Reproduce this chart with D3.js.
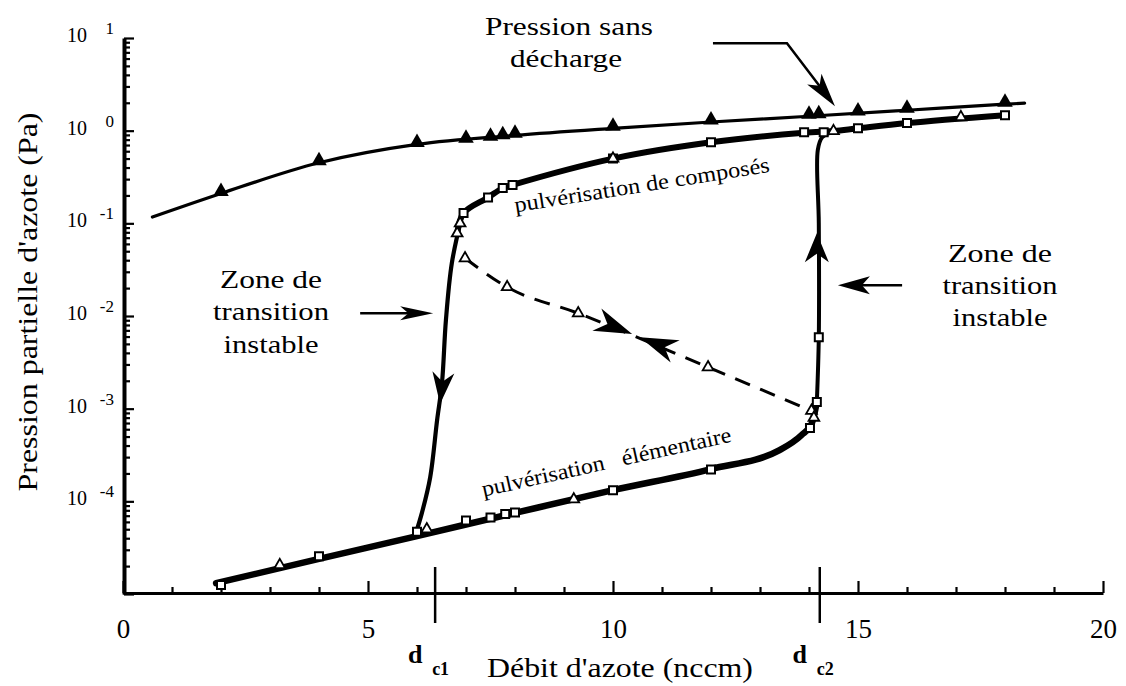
<!DOCTYPE html>
<html><head><meta charset="utf-8">
<script src="https://cdn.jsdelivr.net/npm/d3@7"></script>
<style>
body{margin:0;background:#fff}
svg{display:block;background:#fff}
svg text{font-family:"Liberation Serif","LiberationSerif","Tinos","Times New Roman",Times,"DejaVu Serif",serif !important;fill:#000}
</style>
</head><body>
<svg id="chart" width="1126" height="686"></svg>
<script>
// ---------- axes ----------
const xTickValues = [0, 5, 10, 15, 20];
const xMinorTickValues = [1,2,3,4,6,7,8,9,11,12,13,14,16,17,18,19];
const yDecadeExponents = [-4, -3, -2, -1, 0, 1];
const criticalFlows = [6.37, 14.22];
const criticalLabels = ["c1", "c2"];

// ---------- Pression sans décharge (filled triangles) ----------
const noDischargeX = [2, 4, 6, 7, 7.5, 7.75, 8, 10, 12, 14, 14.2, 15, 16, 18];
const noDischargeP = [0.21, 0.45, 0.71, 0.79, 0.83, 0.86, 0.89, 1.06, 1.24, 1.43, 1.45, 1.55, 1.66, 1.93];
const noDischargeCurveX = [0.6, 2, 4, 6, 8, 10, 12, 14, 16, 18, 18.4];
const noDischargeCurveP = [0.117, 0.21, 0.45, 0.71, 0.89, 1.06, 1.24, 1.43, 1.66, 1.93, 1.98];

// ---------- hysteresis loop: curves ----------
const lowerBranchX = [1.9, 4, 6, 8, 10, 12, 13.4, 13.85, 14.05, 14.16];
const lowerBranchP = [1.31e-5, 2.39e-5, 4.22e-5, 7.5e-5, 1.32e-4, 2.23e-4, 3.57e-4, 5.2e-4, 6.8e-4, 1.18e-3];
const rightJumpX = [14.16, 14.2, 14.2, 14.18, 14.27, 14.53];
const rightJumpP = [1.18e-3, 5.9e-3, 0.1, 0.62, 0.85, 0.99];
const upperBranchX = [6.82, 6.95, 7.45, 7.75, 7.95, 10, 12, 13.9, 14.5, 15, 16, 18];
const upperBranchP = [0.078, 0.129, 0.19, 0.24, 0.26, 0.50, 0.75, 0.95, 0.99, 1.06, 1.21, 1.47];
const leftJumpX = [6.9, 6.71, 6.59, 6.51, 6.41, 6.27, 6.1, 5.98];
const leftJumpP = [0.11, 0.037, 9.0e-3, 1.89e-3, 7.5e-4, 1.83e-4, 7.5e-5, 4.6e-5];
const dashedX = [6.98, 7.84, 9.29, 11.94, 14.05];
const dashedP = [0.042, 0.0205, 0.0107, 0.0028, 9.5e-4];

// ---------- hysteresis loop: measured points ----------
const elementSquaresX = [2, 4, 6, 7, 7.5, 7.8, 8, 10, 12];
const elementSquaresP = [1.25e-5, 2.55e-5, 4.7e-5, 6.2e-5, 6.7e-5, 7.3e-5, 7.6e-5, 1.32e-4, 2.2e-4];
const transitionSquaresX = [14.02, 14.16, 14.2];
const transitionSquaresP = [6.2e-4, 1.18e-3, 5.9e-3];
const compoundSquaresX = [6.95, 7.45, 7.75, 7.95, 10, 12, 13.9, 14.3, 15, 16, 18];
const compoundSquaresP = [0.129, 0.19, 0.24, 0.26, 0.50, 0.75, 0.96, 0.96, 1.06, 1.21, 1.47];
const openTriX = [6.82, 6.88, 10, 14.5, 17.1, 6.98, 7.84, 9.29, 11.94, 14.05, 14.1, 3.2, 6.2, 9.2];
const openTriP = [0.078, 0.1, 0.50, 0.99, 1.40, 0.042, 0.0205, 0.0107, 0.0028, 9.5e-4, 8.0e-4, 2.05e-5, 5.0e-5, 1.05e-4];

// ---------- direction arrowheads on curves ----------
const arrowTipX = [6.47, 14.16, 10.39, 10.55];
const arrowTipP = [1.12e-3, 0.078, 6.4e-3, 5.9e-3];
const arrowAngle = [96, -90, 22, 202];

// ---------- annotation arrows ----------
const noteArrowsX = [[12.04, 13.55, 14.53], [4.84, 6.33], [15.9, 14.59]];
const noteArrowsP = [[8.79, 8.79, 1.84], [0.01074, 0.01074], [0.0215, 0.0215]];

// =====================================================
const FONT = '"Liberation Serif","LiberationSerif","Tinos","Times New Roman",Times,"DejaVu Serif",serif';
const svg = d3.select("#chart");
const W = 1126, H = 686;
const x = d3.scaleLinear().domain([0, 20]).range([123, 1103]);
const y = d3.scaleLog().domain([1e-5, 10]).range([594, 38]);

svg.append("rect").attr("width", W).attr("height", H).attr("fill", "#fff");

// --- X axis ---
const xAxisY = 593;
const gxMinor = svg.append("g").attr("transform", `translate(0,${xAxisY})`)
  .call(d3.axisBottom(x).tickValues(xMinorTickValues).tickSize(-6).tickSizeOuter(0).tickFormat(""));
gxMinor.select(".domain").remove();
const gx = svg.append("g").attr("transform", `translate(0,${xAxisY})`)
  .call(d3.axisBottom(x).tickValues(xTickValues).tickSize(-12).tickSizeOuter(0).tickFormat(d3.format("d")));
gx.attr("font-family", FONT);
gx.select(".domain").attr("stroke-width", 3);
gx.selectAll("text").attr("y", 45).attr("dy", 0).attr("font-size", 27)
  .attr("font-family", FONT).attr("fill", "#000");

// critical flow markers
criticalFlows.forEach((v, i) => {
  svg.append("line").attr("x1", x(v)).attr("x2", x(v)).attr("y1", 567).attr("y2", 623)
    .attr("stroke", "#000").attr("stroke-width", 2.5);
  svg.append("text").attr("x", x(v) - 20).attr("y", 663).attr("text-anchor", "middle")
    .attr("font-family", FONT).attr("font-size", 26).attr("font-weight", "bold").text("d");
  svg.append("text").attr("x", x(v) - 3).attr("y", 675).attr("text-anchor", "start")
    .attr("font-family", FONT).attr("font-size", 18).attr("font-weight", "bold").text(criticalLabels[i]);
});

// --- Y axis ---
const yAxisX = 124;
const minorY = y.ticks().filter(t => Math.abs(Math.log10(t) - Math.round(Math.log10(t))) > 1e-6);
const gyMinor = svg.append("g").attr("transform", `translate(${yAxisX},0)`)
  .call(d3.axisLeft(y).tickValues(minorY).tickSize(-6).tickSizeOuter(0).tickFormat(""));
gyMinor.select(".domain").remove();
const gy = svg.append("g").attr("transform", `translate(${yAxisX},0)`)
  .call(d3.axisLeft(y).tickValues(yDecadeExponents.map(e => Math.pow(10, e)).concat([1e-5]))
    .tickSize(-10).tickSizeOuter(0).tickFormat(""));
gy.select(".domain").attr("stroke-width", 4);
svg.selectAll("g .tick line").attr("stroke", "#000").attr("stroke-width", 2.2);

yDecadeExponents.forEach(e => {
  const yy = y(Math.pow(10, e));
  svg.append("text").attr("x", 87).attr("y", yy + 4).attr("text-anchor", "end")
    .attr("font-family", FONT).attr("font-size", 20).text("10");
  svg.append("text").attr("x", 114).attr("y", yy - 4).attr("text-anchor", "end")
    .attr("font-family", FONT).attr("font-size", 17).text(String(e));
});

// axis titles
svg.append("text").attr("x", 620).attr("y", 677).attr("text-anchor", "middle")
  .attr("font-family", FONT).attr("font-size", 27).attr("textLength", 266).attr("lengthAdjust", "spacingAndGlyphs")
  .text("Débit d'azote (nccm)");
svg.append("text").attr("transform", "translate(37,302) rotate(-90)").attr("text-anchor", "middle")
  .attr("font-family", FONT).attr("font-size", 27).attr("textLength", 379).attr("lengthAdjust", "spacingAndGlyphs")
  .text("Pression partielle d'azote (Pa)");

// --- curves ---
const lineC = d3.line().x(d => x(d[0])).y(d => y(d[1])).curve(d3.curveCatmullRom.alpha(0.5));
const lineM = d3.line().x(d => x(d[0])).y(d => y(d[1])).curve(d3.curveMonotoneX);
const drawCurve = (gen, xs, ps, w, dash) => svg.append("path").datum(d3.zip(xs, ps))
  .attr("d", gen).attr("fill", "none").attr("stroke", "#000").attr("stroke-width", w)
  .attr("stroke-linejoin", "round").attr("stroke-linecap", dash ? "butt" : "round")
  .attr("stroke-dasharray", dash || null);

drawCurve(lineM, noDischargeCurveX, noDischargeCurveP, 3.2);
drawCurve(lineM, lowerBranchX, lowerBranchP, 6.5);
drawCurve(lineC, rightJumpX, rightJumpP, 4);
drawCurve(lineC, upperBranchX, upperBranchP, 6);
drawCurve(lineC, leftJumpX, leftJumpP, 4.2);
drawCurve(lineM, dashedX, dashedP, 3, "16,11");

// --- arrowheads along curves ---
const head = (L, Wd, n) => `M0,0L${-L},${-Wd}L${-L * n},0L${-L},${Wd}Z`;
const arrowSizes = [[32, 11], [29, 12], [38, 12], [38, 12]];
arrowTipX.forEach((v, i) => {
  svg.append("path").attr("d", head(arrowSizes[i][0], arrowSizes[i][1], 0.7))
    .attr("transform", `translate(${x(v)},${y(arrowTipP[i])}) rotate(${arrowAngle[i]})`)
    .attr("fill", "#000");
});

// --- markers ---
const tri = d3.symbol().type(d3.symbolTriangle);
svg.append("g").selectAll("path").data(d3.zip(noDischargeX, noDischargeP)).join("path")
  .attr("d", tri.size(105)()).attr("transform", d => `translate(${x(d[0])},${y(d[1]) - 2})`)
  .attr("fill", "#000");

const sq = d3.symbol().type(d3.symbolSquare).size(64);
const squares = d3.zip(elementSquaresX, elementSquaresP)
  .concat(d3.zip(transitionSquaresX, transitionSquaresP))
  .concat(d3.zip(compoundSquaresX, compoundSquaresP));
svg.append("g").selectAll("path").data(squares).join("path")
  .attr("d", sq()).attr("transform", d => `translate(${x(d[0])},${y(d[1])})`)
  .attr("fill", "#fff").attr("stroke", "#000").attr("stroke-width", 2);

const otri = d3.symbol().type(d3.symbolTriangle).size(50);
svg.append("g").selectAll("path").data(d3.zip(openTriX, openTriP)).join("path")
  .attr("d", otri()).attr("transform", d => `translate(${x(d[0])},${y(d[1])})`)
  .attr("fill", "#fff").attr("stroke", "#000").attr("stroke-width", 1.8);

// --- annotation arrows ---
const noteHeads = [[34, 9], [33, 7], [32, 9]];
noteArrowsX.forEach((xs, i) => {
  const pts = xs.map((v, j) => [x(v), y(noteArrowsP[i][j])]);
  const a = pts[pts.length - 2], b = pts[pts.length - 1];
  const ang = Math.atan2(b[1] - a[1], b[0] - a[0]) * 180 / Math.PI;
  const L = noteHeads[i][0];
  const shaft = pts.slice(0, -1).concat([[b[0] - Math.cos(ang * Math.PI / 180) * L * 0.6, b[1] - Math.sin(ang * Math.PI / 180) * L * 0.6]]);
  svg.append("path").attr("d", d3.line()(shaft)).attr("fill", "none")
    .attr("stroke", "#000").attr("stroke-width", 2.5);
  svg.append("path").attr("d", head(L, noteHeads[i][1], 0.75))
    .attr("transform", `translate(${b[0]},${b[1]}) rotate(${ang})`).attr("fill", "#000");
});

// --- annotation texts ---
const label = (t, cx, by, size, len) => svg.append("text").attr("x", cx).attr("y", by)
  .attr("text-anchor", "middle").attr("font-family", FONT).attr("font-size", size)
  .attr("textLength", len).attr("lengthAdjust", "spacingAndGlyphs").text(t);
label("Pression sans", 569, 35, 26, 168);
label("décharge", 566, 67, 26, 112);
label("Zone de", 271, 288, 26, 102);
label("transition", 271, 320, 26, 116);
label("instable", 271, 353, 26, 95);
label("Zone de", 1000, 262, 26, 104);
label("transition", 1000, 294, 26, 115);
label("instable", 1000, 326, 26, 95);

svg.append("text").attr("transform", "translate(643,192) rotate(-9)").attr("text-anchor", "middle")
  .attr("font-family", FONT).attr("font-size", 22).attr("textLength", 258).attr("lengthAdjust", "spacingAndGlyphs")
  .text("pulvérisation de composés");
svg.append("text").attr("transform", "translate(608,469) rotate(-12.5)").attr("text-anchor", "middle")
  .attr("font-family", FONT).attr("font-size", 22).attr("textLength", 255).attr("lengthAdjust", "spacingAndGlyphs")
  .style("white-space", "pre").text("pulvérisation   élémentaire");
</script>
</body></html>
